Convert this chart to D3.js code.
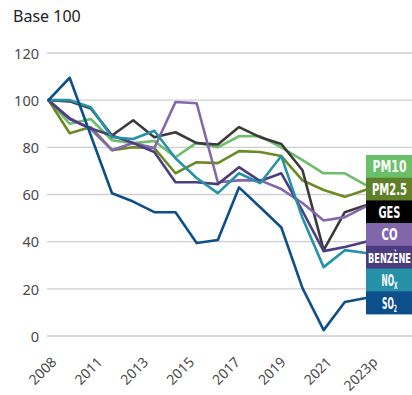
<!DOCTYPE html>
<html>
<head>
<meta charset="utf-8">
<script src="https://cdn.jsdelivr.net/npm/d3@7"></script>
<style>
  html, body { margin: 0; padding: 0; background: #fff; }
  svg { display: block; }
</style>
</head>
<body>
<svg id="chart" width="412" height="395"></svg>
<script>
// Years on the category axis (2023 is provisional)
const years = ["2008","2009","2010","2011","2012","2013","2014","2015",
               "2016","2017","2018","2019","2020","2021","2022","2023p"];
const tickLabels = ["2008","2011","2013","2015","2017","2019","2021","2023p"];
const yTicks = [0, 20, 40, 60, 80, 100, 120];

// Emission indices, base 100 in 2008
const pm10    = [100, 90, 92, 83, 81.8, 82.7, 75.8, 82, 80, 84.7, 84.7, 80, 74.6, 69, 69, 64];
const pm25    = [100, 86, 88.6, 78.8, 80, 79.7, 69, 73.7, 73.3, 78.4, 78, 76.3, 66, 61.9, 59, 62];
const ges     = [100, 99.5, 96.5, 85, 91.5, 84.3, 86.4, 81.8, 81.2, 88.6, 84.3, 81.4, 70.3, 36.4, 52.5, 55.5];
const co      = [100, 92.4, 87.7, 78.8, 81.8, 79.7, 99.2, 98.7, 65.2, 66, 66, 62.3, 56.4, 49, 50.4, 55];
const benzene = [100, 92, 88, 85, 81.8, 78, 65.2, 65.2, 64.4, 71.6, 65.7, 69, 53, 36, 37.7, 40];
const nox     = [100, 100, 97, 84.3, 83.5, 87, 75.4, 67, 60.6, 69, 64.8, 76.3, 50, 29.2, 36.4, 35.2];
const so2     = [100, 109.5, 85, 60.5, 57, 52.5, 52.5, 39.4, 40.7, 63, 54.6, 46, 20.3, 2.5, 14.4, 16.1];

const seriesNames = ["PM10", "PM2.5", "GES", "CO", "BENZÈNE", "NOx", "SO2"];
const seriesValues = [pm10, pm25, ges, co, benzene, nox, so2];
const lineColors = ["#6dbd6b", "#6a8a22", "#3a3a3a", "#8466ad", "#4c3e82", "#2592aa", "#0d4f8a"];
const boxColors  = ["#6abf69", "#5f7f28", "#000000", "#8266ab", "#4a3c7f", "#2491a8", "#0d4f8b"];

const svg = d3.select("#chart");
const W = 412;

const x = d3.scalePoint().domain(years).range([48.5, 366]);
const y = d3.scaleLinear().domain([0, 120]).range([336, 53]);
// Year labels are spread evenly along the bottom edge
const xLabel = d3.scalePoint().domain(tickLabels).range([57, 378]);

// Horizontal gridlines
svg.append("g")
  .selectAll("line")
  .data(yTicks)
  .join("line")
  .attr("x1", 47).attr("x2", W)
  .attr("y1", d => y(d)).attr("y2", d => y(d))
  .attr("stroke", "#cfcfcf")
  .attr("stroke-width", 1.3);

// Y axis labels
const yAxis = d3.axisLeft(y).tickValues(yTicks).tickSize(0).tickPadding(0);
const yg = svg.append("g").attr("transform", "translate(39,0)").call(yAxis);
yg.select(".domain").remove();
yg.selectAll("text")
  .attr("font-family", "'Noto Sans', sans-serif")
  .attr("font-size", 14.5)
  .attr("fill", "#4a4a4a")
  .attr("dy", "0.36em");

// X axis labels, rotated
const xAxis = d3.axisBottom(xLabel).tickSize(0).tickPadding(0);
const xg = svg.append("g").attr("transform", "translate(0,363)").call(xAxis);
xg.select(".domain").remove();
xg.selectAll("text")
  .attr("font-family", "'Noto Sans', sans-serif")
  .attr("font-size", 14)
  .attr("fill", "#4a4a4a")
  .attr("text-anchor", "end")
  .attr("y", 0).attr("dy", 0)
  .attr("transform", "rotate(-45)");

// Title
svg.append("text")
  .attr("x", 13).attr("y", 22)
  .attr("font-family", "'Noto Sans', sans-serif")
  .attr("font-size", 16)
  .attr("fill", "#222")
  .text("Base 100");

// Series lines
const line = d3.line()
  .x((d, i) => x(years[i]))
  .y(d => y(d));

svg.append("g")
  .selectAll("path")
  .data(seriesValues)
  .join("path")
  .attr("d", d => line(d))
  .attr("fill", "none")
  .attr("stroke", (d, i) => lineColors[i])
  .attr("stroke-width", 2.6)
  .attr("stroke-linejoin", "round")
  .attr("stroke-linecap", "round");

// Legend boxes stacked on the right edge
const boxX = 366, boxW = 46, boxTop = 155, boxH = 22.7;
const labelWidths = [34, 35, 22, 16, 43, 16, 15];
const legend = svg.append("g");
seriesNames.forEach((name, i) => {
  const gy = boxTop + i * boxH;
  legend.append("rect")
    .attr("x", boxX).attr("y", gy)
    .attr("width", boxW).attr("height", boxH + 0.5)
    .attr("fill", boxColors[i]);
  const g = legend.append("g");
  const t = g.append("text")
    .attr("x", 0).attr("y", 0)
    .attr("font-family", "'Liberation Sans Narrow', 'DejaVu Sans Condensed', sans-serif")
    .attr("font-weight", "bold")
    .attr("font-size", name === "BENZÈNE" ? 14 : 16.5)
    .attr("fill", "#fff");
  if (name === "NOx" || name === "SO2") {
    t.append("tspan").text(name.slice(0, 2));
    t.append("tspan")
      .attr("font-size", 10)
      .attr("dy", 3)
      .text(name === "NOx" ? "X" : "2");
  } else {
    t.text(name);
  }
  const bb = t.node().getBBox();
  const s = labelWidths[i] / bb.width;
  const cx = boxX + boxW / 2 + 0.5;
  const base = gy + boxH / 2 + 6;
  g.attr("transform", `translate(${cx - (bb.x + bb.width / 2) * s},${base}) scale(${s},1)`);
});
</script>
</body>
</html>
